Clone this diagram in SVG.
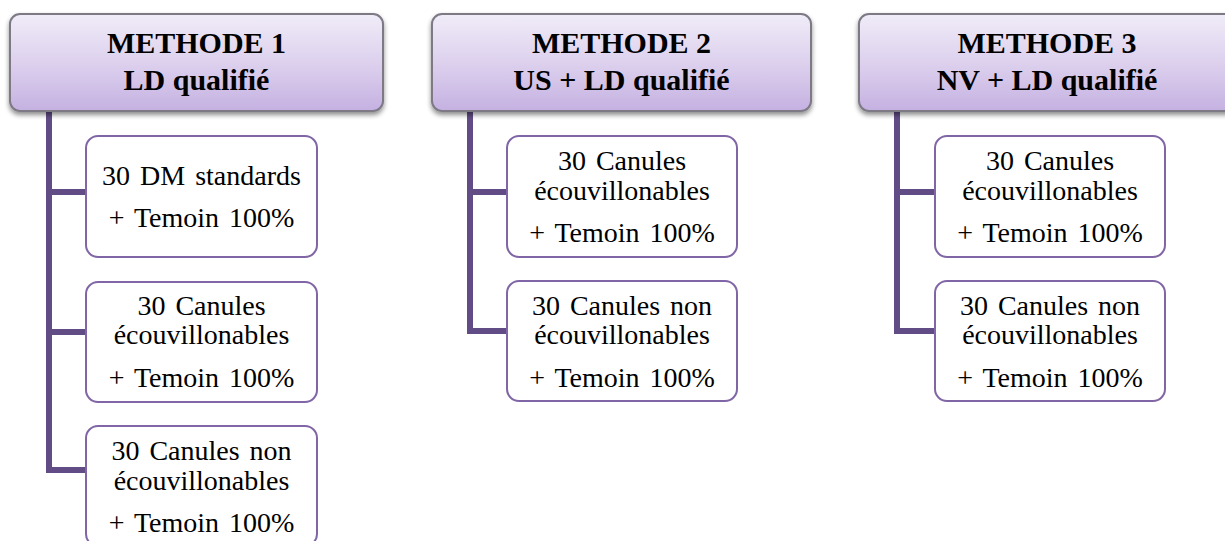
<svg xmlns="http://www.w3.org/2000/svg" width="1225" height="541" viewBox="0 0 1225 541">
<defs>
<linearGradient id="hg" x1="0" y1="0" x2="0" y2="1">
<stop offset="0" stop-color="#f0ecf8"/>
<stop offset="0.5" stop-color="#ddd1ee"/>
<stop offset="1" stop-color="#c5b1e1"/>
</linearGradient>
<filter id="sh" x="-5%" y="-10%" width="110%" height="130%">
<feGaussianBlur in="SourceAlpha" stdDeviation="2.5"/>
<feOffset dx="0" dy="3" result="b"/>
<feComponentTransfer><feFuncA type="linear" slope="0.45"/></feComponentTransfer>
<feMerge><feMergeNode/><feMergeNode in="SourceGraphic"/></feMerge>
</filter>
</defs>
<style>
.hdr{fill:url(#hg);stroke:#7d7a86;stroke-width:2;filter:url(#sh)}
.ht{font-family:'Liberation Serif','Times New Roman',serif;font-weight:bold;font-size:30px;fill:#000;text-anchor:middle}
.box{fill:#fff;stroke:#8066a6;stroke-width:2}
.bt{font-family:'Liberation Serif','Times New Roman',serif;font-size:28px;fill:#000;text-anchor:middle;word-spacing:3px}
.con{fill:none;stroke:#624c86;stroke-width:6;stroke-linejoin:miter}
</style>
<rect width="1225" height="541" fill="#fff"/>
<g id="connectors">
<path class="con" d="M49 111 V470 H86 M49 192 H86 M49 332 H86"/>
<path class="con" d="M470 111 V331 H507 M470 192 H507"/>
<path class="con" d="M897 111 V331 H935 M897 192 H935"/>
</g>
<g id="header1">
<rect class="hdr" x="10" y="14" width="373" height="97" rx="10"/>
<text class="ht" x="196.5" y="53">METHODE 1</text>
<text class="ht" x="196.5" y="90">LD qualifié</text>
</g>
<g id="header2">
<rect class="hdr" x="432" y="14" width="379" height="97" rx="10"/>
<text class="ht" x="621.5" y="53">METHODE 2</text>
<text class="ht" x="621.5" y="90">US + LD qualifié</text>
</g>
<g id="header3">
<rect class="hdr" x="859" y="14" width="376" height="97" rx="10"/>
<text class="ht" x="1047" y="53">METHODE 3</text>
<text class="ht" x="1047" y="90">NV + LD qualifié</text>
</g>
<g id="m1c1">
<rect class="box" x="86" y="136" width="231" height="121" rx="12"/>
<text class="bt" x="201.5" y="185">30 DM standards</text>
<text class="bt" x="201.5" y="227">+ Temoin 100%</text>
</g>
<g id="m1c2">
<rect class="box" x="86" y="282" width="231" height="120" rx="12"/>
<text class="bt" x="201.5" y="315">30 Canules</text>
<text class="bt" x="201.5" y="344">écouvillonables</text>
<text class="bt" x="201.5" y="387">+ Temoin 100%</text>
</g>
<g id="m1c3">
<rect class="box" x="86" y="426" width="231" height="120" rx="12"/>
<text class="bt" x="201.5" y="460">30 Canules non</text>
<text class="bt" x="201.5" y="490">écouvillonables</text>
<text class="bt" x="201.5" y="532">+ Temoin 100%</text>
</g>
<g id="m2c1">
<rect class="box" x="507" y="136" width="230" height="121" rx="12"/>
<text class="bt" x="622" y="170">30 Canules</text>
<text class="bt" x="622" y="200">écouvillonables</text>
<text class="bt" x="622" y="242">+ Temoin 100%</text>
</g>
<g id="m2c2">
<rect class="box" x="507" y="281" width="230" height="120" rx="12"/>
<text class="bt" x="622" y="315">30 Canules non</text>
<text class="bt" x="622" y="344">écouvillonables</text>
<text class="bt" x="622" y="387">+ Temoin 100%</text>
</g>
<g id="m3c1">
<rect class="box" x="935" y="136" width="230" height="121" rx="12"/>
<text class="bt" x="1050" y="170">30 Canules</text>
<text class="bt" x="1050" y="200">écouvillonables</text>
<text class="bt" x="1050" y="242">+ Temoin 100%</text>
</g>
<g id="m3c2">
<rect class="box" x="935" y="281" width="230" height="120" rx="12"/>
<text class="bt" x="1050" y="315">30 Canules non</text>
<text class="bt" x="1050" y="344">écouvillonables</text>
<text class="bt" x="1050" y="387">+ Temoin 100%</text>
</g>
</svg>
